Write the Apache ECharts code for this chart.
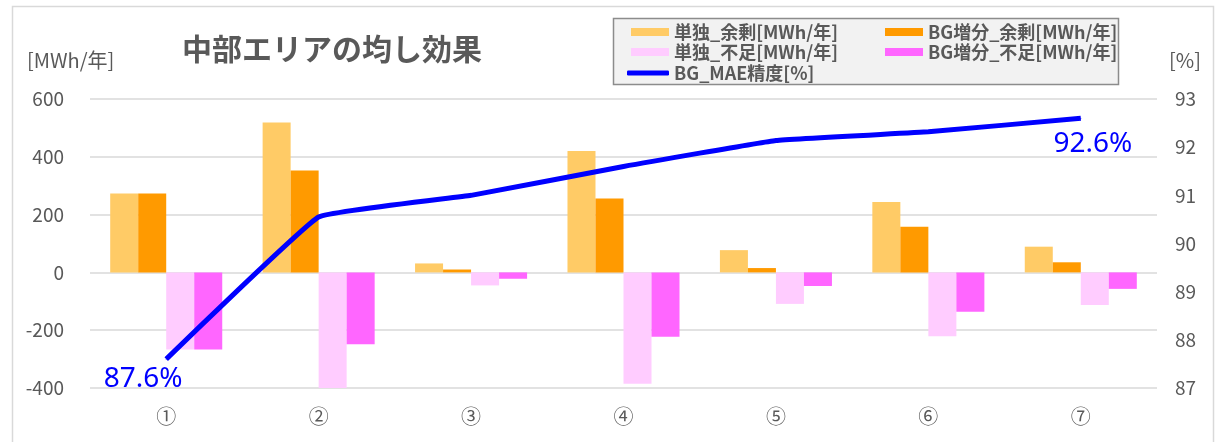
<!DOCTYPE html>
<html>
<head>
<meta charset="utf-8">
<script src="https://cdn.jsdelivr.net/npm/echarts@6/dist/echarts.min.js"></script>
<style>
  html, body { margin: 0; padding: 0; background: #fff; }
  #chart { width: 1218px; height: 442px; }
</style>
</head>
<body>
<div id="chart"></div>
<script>
// Areas ①〜⑦
const categories = ['①', '②', '③', '④', '⑤', '⑥', '⑦'];

// Surplus / shortage [MWh/年]
const soloSurplus = [273, 519, 31, 420, 77, 244, 89];
const bgSurplus = [273, 353, 10, 256, 15, 158, 35];
const soloShortage = [-267, -402, -45, -385, -109, -221, -113];
const bgShortage = [-267, -249, -22, -223, -47, -136, -57];

// BG MAE accuracy [%]
const maeAccuracy = [87.6, 90.55, 91.0, 91.6, 92.14, 92.32, 92.6];

const leftTicks = { min: -400, max: 600, interval: 200 };
const rightTicks = { min: 87, max: 93, interval: 1 };

const FONT = '"Noto Sans CJK JP", "Noto Sans", sans-serif';
const GRAY = '#595959';

const chart = echarts.init(document.getElementById('chart'));

// Only the first and last accuracy points carry a value label
const lineData = maeAccuracy.map((v, i) => {
  const item = { value: v };
  if (i === 0) {
    item.label = { show: true, position: 'bottom', offset: [-23, 0] };
  } else if (i === maeAccuracy.length - 1) {
    item.label = { show: true, position: 'bottom', offset: [12, 6] };
  }
  return item;
});

const legendText = { color: GRAY, fontSize: 18, fontWeight: 'bold', fontFamily: FONT };

chart.setOption({
  animation: false,
  textStyle: { fontFamily: FONT },
  graphic: [
    {
      type: 'rect', z: -10,
      shape: { x: 12.5, y: 6.5, width: 1201, height: 460 },
      style: { fill: 'none', stroke: '#d9d9d9', lineWidth: 1.5 }
    },
    {
      type: 'rect', z: 0,
      shape: { x: 613.5, y: 18.5, width: 505, height: 66 },
      style: { fill: '#f2f2f2', stroke: '#8c8c8c', lineWidth: 1.5 }
    },
    {
      type: 'text', left: 182, top: 34,
      style: { text: '中部エリアの均し効果', fill: GRAY, font: 'bold 30px ' + FONT }
    },
    {
      type: 'text', left: 27, top: 50,
      style: { text: '[MWh/年]', fill: GRAY, font: '20px ' + FONT }
    },
    {
      type: 'text', left: 1169, top: 50,
      style: { text: '[%]', fill: GRAY, font: '20px ' + FONT }
    }
  ],
  legend: [
    {
      orient: 'vertical', left: 626, top: 18, itemGap: 2,
      itemWidth: 38, itemHeight: 8, z: 5,
      textStyle: legendText,
      data: [
        { name: '単独_余剰[MWh/年]', icon: 'rect' },
        { name: '単独_不足[MWh/年]', icon: 'rect' }
      ]
    },
    {
      orient: 'vertical', left: 880, top: 18, itemGap: 2,
      itemWidth: 38, itemHeight: 8, z: 5,
      textStyle: legendText,
      data: [
        { name: 'BG増分_余剰[MWh/年]', icon: 'rect' },
        { name: 'BG増分_不足[MWh/年]', icon: 'rect' }
      ]
    },
    {
      left: 622, top: 59,
      itemWidth: 42, itemHeight: 5, z: 5,
      textStyle: legendText,
      data: [{ name: 'BG_MAE精度[%]', icon: 'roundRect' }]
    }
  ],
  grid: { left: 90, right: 61, top: 99, bottom: 54, containLabel: false },
  xAxis: {
    type: 'category',
    data: categories,
    axisLine: { show: false },
    axisTick: { show: false },
    axisLabel: { color: GRAY, fontSize: 20, margin: 18, fontFamily: FONT }
  },
  yAxis: [
    {
      type: 'value',
      min: leftTicks.min, max: leftTicks.max, interval: leftTicks.interval,
      axisLine: { show: false },
      axisTick: { show: false },
      axisLabel: { color: GRAY, fontSize: 19, margin: 26, fontFamily: FONT },
      splitLine: { lineStyle: { color: '#d9d9d9', width: 1.5 } }
    },
    {
      type: 'value',
      min: rightTicks.min, max: rightTicks.max, interval: rightTicks.interval,
      axisLine: { show: false },
      axisTick: { show: false },
      axisLabel: { color: GRAY, fontSize: 19, margin: 18, fontFamily: FONT },
      splitLine: { show: false }
    }
  ],
  series: [
    {
      name: '単独_余剰[MWh/年]', type: 'bar', data: soloSurplus,
      barGap: '0%', barCategoryGap: '26.5%',
      itemStyle: { color: '#FFCB66' }
    },
    {
      name: 'BG増分_余剰[MWh/年]', type: 'bar', data: bgSurplus,
      barGap: '0%', barCategoryGap: '26.5%',
      itemStyle: { color: '#FF9A00' }
    },
    {
      name: '単独_不足[MWh/年]', type: 'bar', data: soloShortage,
      barGap: '0%', barCategoryGap: '26.5%',
      itemStyle: { color: '#FFCCFF' }
    },
    {
      name: 'BG増分_不足[MWh/年]', type: 'bar', data: bgShortage,
      barGap: '0%', barCategoryGap: '26.5%',
      itemStyle: { color: '#FF66FF' }
    },
    {
      name: 'BG_MAE精度[%]', type: 'line', yAxisIndex: 1,
      data: lineData,
      smooth: 0.08,
      symbol: 'circle',
      symbolSize: 1,
      showSymbol: true,
      lineStyle: { color: '#0000FF', width: 5 },
      itemStyle: { color: '#0000FF' },
      label: {
        show: false,
        color: '#0000FF', fontSize: 28, fontFamily: '"Noto Sans", sans-serif',
        formatter: p => p.value.toFixed(1) + '%'
      },
      z: 10
    }
  ]
});
</script>
</body>
</html>
